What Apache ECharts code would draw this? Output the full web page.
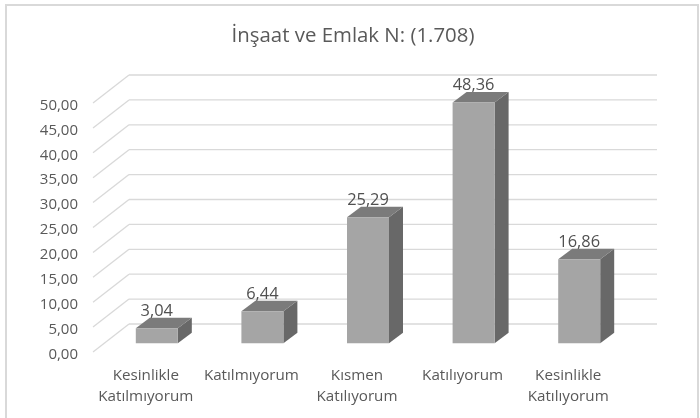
<!DOCTYPE html>
<html>
<head>
<meta charset="utf-8">
<style>
html, body { margin: 0; padding: 0; background: #fff; }
#chart { width: 700px; height: 418px; }
</style>
<script src="https://cdn.jsdelivr.net/npm/echarts@6/dist/echarts.min.js"></script>
</head>
<body>
<div id="chart"></div>
<script>
const titleText = 'İnşaat ve Emlak N: (1.708)';
const categories = ['Kesinlikle\nKatılmıyorum', 'Katılmıyorum', 'Kısmen\nKatılıyorum', 'Katılıyorum', 'Kesinlikle\nKatılıyorum'];
const values = [3.04, 6.44, 25.29, 48.36, 16.86];
const ticks = [0, 5, 10, 15, 20, 25, 30, 35, 40, 45, 50];

const fontName = '"Open Sans", sans-serif';
const textColor = '#595959';
// 3d look: how far the back wall and the bars are shifted from the front plane
const wallDx = 36, wallDy = -28;
const barDx = 11, barDy = -8.7;
const depthDx = 14, depthDy = -10.5;
const barW = 42;

const fmt = v => v.toFixed(2).replace('.', ',');

const myChart = echarts.init(document.getElementById('chart'));
myChart.setOption({
  animation: false,
  backgroundColor: '#fff',
  title: {
    text: titleText,
    left: 348,
    top: 21,
    textAlign: 'center',
    textStyle: { fontFamily: fontName, fontSize: 20.4, fontWeight: 'normal', color: textColor }
  },
  graphic: [{
    // chart frame, the bottom edge is cut off in the screenshot
    type: 'rect',
    shape: { x: 6, y: 5, width: 692, height: 430 },
    style: { fill: 'none', stroke: '#d9d9d9', lineWidth: 2 }
  }],
  grid: { left: 93, top: 103, width: 528, height: 249 },
  xAxis: {
    type: 'category',
    data: categories,
    axisLine: { show: false },
    axisTick: { show: false },
    axisLabel: { interval: 0, margin: 13, fontFamily: fontName, fontSize: 15.2, lineHeight: 21, color: textColor }
  },
  yAxis: {
    type: 'value',
    min: 0,
    max: 50,
    interval: 5,
    splitLine: { show: false },
    axisLine: { show: false },
    axisTick: { show: false },
    // top aligned with a short line box, this pushes the labels a bit below the tick
    axisLabel: { margin: 15, fontFamily: fontName, fontSize: 15, color: textColor, verticalAlign: 'top', lineHeight: 5, formatter: v => fmt(v) }
  },
  series: [{
    // floor and back wall lines
    type: 'custom',
    data: ticks,
    silent: true,
    z: 1,
    encode: { y: 0 },
    renderItem(params, api) {
      const p = api.coord([0, api.value(0)]);
      const x0 = params.coordSys.x;
      const x1 = x0 + params.coordSys.width;
      const lineStyle = { stroke: '#d9d9d9', lineWidth: 1.3, fill: 'none' };
      return {
        type: 'group',
        children: [
          { type: 'line', shape: { x1: x0, y1: p[1], x2: x0 + wallDx, y2: p[1] + wallDy }, style: lineStyle },
          { type: 'line', shape: { x1: x0 + wallDx, y1: p[1] + wallDy, x2: x1 + wallDx, y2: p[1] + wallDy }, style: lineStyle }
        ]
      };
    }
  }, {
    type: 'custom',
    data: values.map((v, i) => [i, v]),
    z: 5,
    encode: { x: 0, y: 1 },
    renderItem(params, api) {
      const top = api.coord([api.value(0), api.value(1)]);
      const base = api.coord([api.value(0), 0]);
      const l = top[0] + barDx - barW / 2;
      const r = l + barW;
      const t = top[1] + barDy;
      const b = base[1] + barDy;
      return {
        type: 'group',
        children: [
          { type: 'polygon', shape: { points: [[r, t], [r + depthDx, t + depthDy], [r + depthDx, b + depthDy], [r, b]] }, style: { fill: '#686868' } },
          { type: 'polygon', shape: { points: [[l, t], [l + depthDx, t + depthDy], [r + depthDx, t + depthDy], [r, t]] }, style: { fill: '#7b7b7b' } },
          { type: 'rect', shape: { x: l, y: t, width: barW, height: b - t }, style: { fill: '#a5a5a5' } },
          {
            type: 'text',
            style: {
              x: (l + r) / 2,
              y: t - 17,
              text: fmt(api.value(1)),
              align: 'center',
              verticalAlign: 'middle',
              font: '16.4px ' + fontName,
              fill: '#505050'
            }
          }
        ]
      };
    }
  }]
});
window.addEventListener('resize', () => {
  myChart.resize();
});
</script>
</body>
</html>
